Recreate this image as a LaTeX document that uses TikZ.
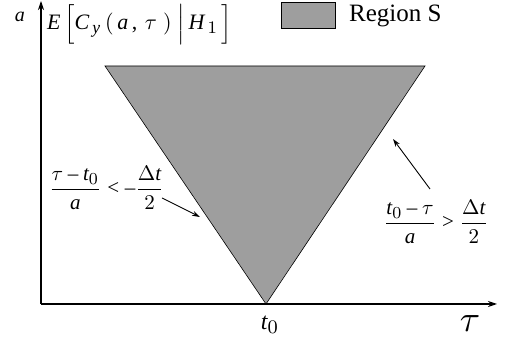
\documentclass[tikz,border=0pt]{standalone}
\usepackage{amsmath}
\usepackage{graphicx}
\usepackage{fontspec}
\setmainfont{Liberation Serif}
\usepackage[italic]{mathastext}
\usetikzlibrary{arrows.meta}
\begin{document}
\begin{tikzpicture}[x=1pt,y=-1pt,
  axis/.style={line width=1.1pt,-{Stealth[length=9pt,width=6pt]}},
  region/.style={fill=black!38,draw=black,line width=0.6pt},
  pointer/.style={line width=0.9pt,-{Stealth[length=8pt,width=5pt]}},
  lbl/.style={inner sep=0pt}]
\useasboundingbox (0,0) rectangle (507,347);
\coordinate (O) at (41,304);
\coordinate (ytop) at (41,1);
\coordinate (xend) at (497,304);
\coordinate (apex) at (266,304);
\coordinate (TL) at (105,66);
\coordinate (TR) at (425,66);
\draw[region] (TL) -- (TR) -- (apex) -- cycle;
\draw[axis] (O) -- (ytop);
\draw[axis] (O) -- (xend);
\node[lbl] (alab) at (20,17) {\scalebox{2}{$a$}};
\node[lbl,anchor=base west] (ylab) at (47,30) {\scalebox{2.2}{$E\,\Bigl[C_{\,y}\,(\,a\,,\,\tau\;)\;\Bigl|\,H_{\,1}\,\Bigr]$}};
\node[draw=black,line width=1pt,fill=black!38,minimum width=54pt,minimum height=26pt,inner sep=0pt] (leg) at (308,16) {};
\node[anchor=west,font=\fontsize{25}{28}\selectfont,inner sep=0pt] (legtxt) at (349,16) {Region S};
\node[lbl] (t0) at (270,325) {\scalebox{2.4}{$t_0$}};
\node[lbl] (taulab) at (470,324) {\scalebox{3.7}{$\tau$}};
\node[lbl,anchor=west] (leftlab) at (49,188) {\scalebox{2.1}{$\dfrac{\tau-t_0}{a}<-\dfrac{\Delta t}{2}$}};
\node[lbl] (rightlab) at (436,222) {\scalebox{2.1}{$\dfrac{t_0-\tau}{a}>\dfrac{\Delta t}{2}$}};
\coordinate (lstart) at (162,198);
\coordinate (ltip) at (200,217);
\coordinate (rstart) at (430,189);
\coordinate (rtip) at (393,139);
\draw[pointer] (lstart) -- (ltip);
\draw[pointer] (rstart) -- (rtip);
\end{tikzpicture}
\end{document}
